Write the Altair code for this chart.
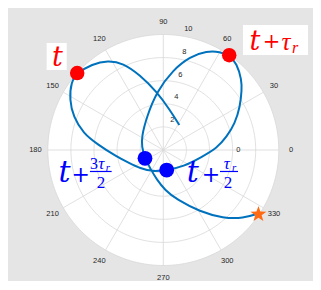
import altair as alt
import numpy as np
import pandas as pd

# ---- data (theta in degrees, r in radial units) ----
curve_theta = [57.4, 80.5, 96.5, 107.3, 114.9, 121.7, 129.7, 138.2, 143.6, 151.9,
               159.7, 168.2, 174.8, 188.2, 201.0, 218.1, 245.3, 279.6, 320.1, 350.0,
               1.8, 11.8, 20.4, 29.4, 37.4, 41.8, 49.7, 55.2, 60.0, 66.3,
               74.0, 83.1, 96.5, 116.7, 148.4, 171.3, 204.4, 233.5, 258.1, 272.4,
               285.1, 300.7, 311.3, 319.5, 326.3]
curve_r = [2.57, 3.51, 5.08, 6.80, 8.30, 9.11, 9.67, 10.0, 9.93, 9.20,
           8.31, 7.07, 5.76, 4.08, 3.15, 2.57, 2.07, 1.76, 2.26, 3.40,
           4.63, 5.61, 6.62, 7.63, 8.55, 9.10, 9.84, 10.0, 9.82, 9.36,
           8.40, 6.98, 5.08, 3.20, 2.20, 1.89, 1.74, 1.94, 2.65, 3.47,
           4.44, 6.21, 7.87, 9.11, 9.90]

red_theta = [138.2, 55.2]
red_r = [10.0, 10.0]
blue_theta = [279.6, 204.4]
blue_r = [1.76, 1.74]
star_theta = [326.3]
star_r = [9.9]

theta_ticks = list(range(0, 360, 30))
r_ticks = [2, 4, 6, 8, 10]
r_max = 10

# ---- helpers ----
def pol(theta, r):
    t = np.deg2rad(np.asarray(theta, dtype=float))
    r = np.asarray(r, dtype=float)
    return r * np.cos(t), r * np.sin(t)

xs = alt.Scale(domain=[-13.446, 12.961], nice=False, zero=False)
ys = alt.Scale(domain=[-11.342, 12.294], nice=False, zero=False)
X = lambda f='x': alt.X(f + ':Q', scale=xs, axis=None)
Y = lambda f='y': alt.Y(f + ':Q', scale=ys, axis=None)

# white disk
dx_ = np.linspace(-r_max, r_max, 401)
dy_ = np.sqrt(np.clip(r_max**2 - dx_**2, 0, None))
disk = pd.DataFrame({'x': dx_, 'y': dy_, 'y2': -dy_})
disk_layer = alt.Chart(disk).mark_area(color='white', opacity=1).encode(
    x=X(), y=Y(), y2='y2:Q')

# grid circles
rows = []
phi = np.linspace(0, 360, 241)
for rr in r_ticks:
    gx, gy = pol(phi, np.full_like(phi, rr))
    for i, (a, b) in enumerate(zip(gx, gy)):
        rows.append({'x': a, 'y': b, 'ring': rr, 'o': i})
GRID = '#D8D8D8'
rings = alt.Chart(pd.DataFrame(rows)).mark_line(color=GRID, strokeWidth=0.8).encode(
    x=X(), y=Y(), detail='ring:N', order='o:Q')

# spokes
sx, sy = pol(theta_ticks, [r_max] * len(theta_ticks))
spk = pd.DataFrame({'x': 0.0, 'y': 0.0, 'x2': sx, 'y2': sy})
spokes = alt.Chart(spk).mark_rule(color=GRID, strokeWidth=0.8).encode(
    x=X(), y=Y(), x2='x2:Q', y2='y2:Q')

# theta labels
lx, ly = pol(theta_ticks, [11.07] * len(theta_ticks))
tl = pd.DataFrame({'x': lx, 'y': ly, 'text': [str(t) for t in theta_ticks]})
tlabels = alt.Chart(tl).mark_text(font='Liberation Sans', fontSize=7.5, color='#262626',
                                  align='center', baseline='middle').encode(
    x=X(), y=Y(), text='text:N')

# radial labels
rx, ry = pol([80] * len(r_ticks), r_ticks)
rl = pd.DataFrame({'x': rx, 'y': ry, 'text': [str(v) for v in r_ticks]})
rlabels = alt.Chart(rl).mark_text(font='Liberation Sans', fontSize=7.5, color='#262626',
                                  align='center', baseline='middle', dx=5, dy=-7).encode(
    x=X(), y=Y(), text='text:N')
zero_lab = alt.Chart(pd.DataFrame({'x': [6.5], 'y': [0.0], 'text': ['0']})).mark_text(
    font='Liberation Sans', fontSize=7.5, color='#262626', align='center', baseline='middle').encode(
    x=X(), y=Y(), text='text:N')

# curve
cx, cy = pol(curve_theta, curve_r)
cdf = pd.DataFrame({'x': cx, 'y': cy, 'o': range(len(cx))})
curve = alt.Chart(cdf).mark_line(color='#0072BD', strokeWidth=2,
                                 interpolate='basis').encode(
    x=X(), y=Y(), order='o:Q')

def pts(theta, r, **kw):
    px, py = pol(theta, r)
    return alt.Chart(pd.DataFrame({'x': px, 'y': py})).mark_point(**kw).encode(x=X(), y=Y())

# five-pointed star path in unit box
sp = []
for k in range(10):
    ang = np.deg2rad(-90 + 36 * k)
    rad = 1.0 if k % 2 == 0 else 0.4
    sp.append(f"{rad*np.cos(ang):.3f},{rad*np.sin(ang)+0.1:.3f}")
STAR = "M" + "L".join(sp) + "Z"

red_pts = pts(red_theta, red_r, shape='circle', filled=True, size=210, color='#FF0000', opacity=1)
blue_pts = pts(blue_theta, blue_r, shape='circle', filled=True, size=220, color='#0000FF', opacity=1)
star_pts = pts(star_theta, star_r, shape=STAR, filled=True, size=280, color='#FF6A13', opacity=1)

# annotation boxes (white) behind red labels
boxes = pd.DataFrame({'x': [-10.10, 6.90], 'x2': [-8.36, 12.53],
                      'y': [6.93, 8.23], 'y2': [9.26, 10.82]})
box_layer = alt.Chart(boxes).mark_rect(color='white').encode(
    x=X(), x2='x2:Q', y=Y(), y2='y2:Q')

def txt(xv, yv, s, **kw):
    d = pd.DataFrame({'x': xv, 'y': yv, 'text': s})
    return alt.Chart(d).mark_text(align='center', baseline='alphabetic', **kw).encode(
        x=X(), y=Y(), text='text:N')

SERIF = 'DejaVu Serif'
TIMES = 'Liberation Serif'
red = '#FF0000'
blue = '#0000FF'
ann = [
    txt([-9.16, 7.94], [7.23, 8.66], ['t', 't'], font=SERIF, fontStyle='italic', fontSize=27, color=red),
    txt([9.37], [8.83], ['+'], font=SERIF, fontSize=21, color=red),
    txt([10.62], [8.66], ['τ'], font=TIMES, fontStyle='italic', fontSize=25, color=red),
    txt([11.42], [8.40], ['r'], font=TIMES, fontStyle='italic', fontSize=16, color=red),
    txt([-8.55, 2.55], [-2.81, -2.81], ['t', 't'], font=SERIF, fontStyle='italic', fontSize=30, color=blue),
    txt([-7.16, 4.12], [-2.76, -2.76], ['+', '+'], font=SERIF, fontSize=22, color=blue),
    txt([-6.0], [-1.645], ['3'], font=TIMES, fontSize=16, color=blue),
    txt([-5.36, 5.49], [-1.645, -1.645], ['τ', 'τ'], font=TIMES, fontStyle='italic', fontSize=17, color=blue),
    txt([-4.80, 6.14], [-1.78, -1.78], ['r', 'r'], font=TIMES, fontStyle='italic', fontSize=11, color=blue),
    txt([-5.40, 5.60], [-3.25, -3.25], ['2', '2'], font=TIMES, fontSize=17, color=blue),
]
bars = pd.DataFrame({'x': [-6.35, 4.91], 'x2': [-4.47, 6.47], 'y': [-1.86, -1.86]})
bar_layer = alt.Chart(bars).mark_rule(color=blue, strokeWidth=1.2).encode(
    x=X(), x2='x2:Q', y=Y())

chart = alt.layer(
    disk_layer, rings, spokes, tlabels, rlabels, zero_lab, curve,
    red_pts, blue_pts, star_pts, box_layer, *ann, bar_layer
).properties(
    width=305, height=273, padding=0,
    background='#E5E5E5',
    autosize=alt.AutoSizeParams(type='none')
).configure_view(strokeWidth=0)

chart.save("out.html", embed_options={"renderer": "svg", "actions": False})
